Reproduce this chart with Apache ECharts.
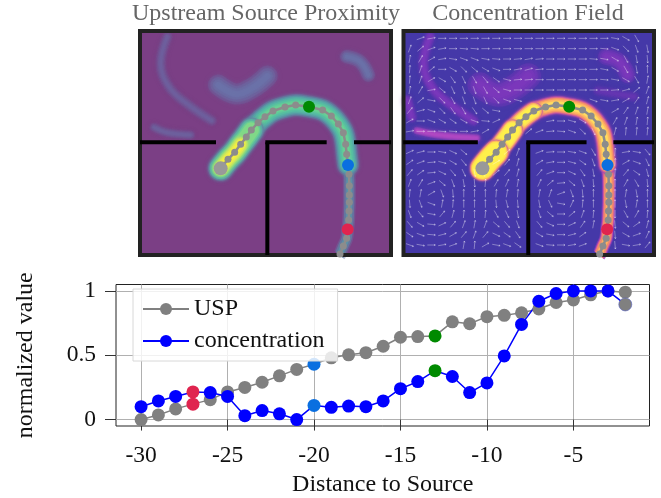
<!DOCTYPE html>
<html><head><meta charset="utf-8">
<style>html,body{margin:0;padding:0;background:#fff}#c{width:661px;height:498px}</style>
<script src="https://cdn.jsdelivr.net/npm/echarts@6/dist/echarts.min.js"></script>
</head><body><div id="c"></div>
<script>
const distance=[-30,-29,-28,-27,-26,-25,-24,-23,-22,-21,-20,-19,-18,-17,-16,-15,-14,-13,-12,-11,-10,-9,-8,-7,-6,-5,-4,-3,-2];
const usp=[0,.036,.083,.12,.155,.215,.25,.29,.34,.39,.43,.48,.503,.52,.57,.64,.645,.65,.76,.745,.80,.81,.83,.86,.91,.93,.97,1,.99];
const concentration=[.10,.145,.18,.215,.21,.18,.03,.07,.045,0,.11,.095,.105,.10,.145,.24,.295,.38,.335,.21,.285,.495,.74,.92,.98,1,1,1,.895];
const xTicks=[-30,-25,-20,-15,-10,-5];
const yTicks=[0,.5,1];
// trajectory in the top maps, one point per distance step
const pathX=[630,640,650,653,656,657,658,658,658,657,654,650,647,640,625,604,578,537,497,465,429,405,384,364,349,332,314,294,272];
const pathY=[762,738,715,688,660,633,607,585,557,523,495,463,433,398,372,348,330,320,315,321,333,350,368,390,411,433,457,478,505];
const tail=[[628,765]];
const wallH1=[[30,427],[258,427]], wallH2=[[406,427],[590,427]], wallV=[[412,427],[412,765]];
const patchA=[[265,255],[320,282],[370,262],[412,228]];
const patchB=[[650,170],[690,185],[715,225]];
const patchC=[[112,110],[92,190],[118,262],[172,312],[245,362]];
const patchD=[[72,382],[112,398],[182,405]];
const patchE=[[72,392],[140,405],[255,414]];
const patchF=[[42,300],[56,352]];
const patchG=[[625,272],[735,290]];
// flow field direction in degrees, one row per 31 units down, one column per 33 across
const fieldAngles=[
[null,20,10,0,0,0,0,0,0,0,0,0,0,0,0,0,0,0,0,-10,-30,-60,null],
[70,40,20,10,0,-5,-5,0,0,0,0,0,0,0,0,0,0,0,-5,-20,-45,-70,-80],
[80,60,30,10,-10,-20,-20,-10,-5,0,5,10,5,0,0,0,0,-5,-10,-30,-60,-80,-85],
[85,70,40,0,-30,-45,-40,-30,-20,0,10,15,5,0,0,0,0,0,-10,-30,-60,-80,90],
[85,70,30,-30,-55,-65,-60,-50,-35,-15,5,5,0,0,0,0,0,0,-5,-10,-30,-60,80],
[80,60,10,-40,-65,-70,-70,-60,-40,-15,0,0,0,0,0,0,0,0,0,5,15,40,70],
[70,40,-10,-45,-60,-70,-70,-65,-45,-20,-15,null,null,null,null,null,null,-20,-10,10,30,55,75],
[50,15,-20,-45,-55,-60,-55,-40,-10,null,null,null,null,null,null,null,null,null,null,30,55,70,80],
[30,0,-20,-30,-35,-30,-20,-5,25,null,null,null,null,10,0,-15,-30,null,null,60,70,80,85],
[10,0,0,-5,-5,0,10,30,null,null,null,40,20,5,-5,-20,-45,-65,null,75,85,85,85],
[null,null,null,null,null,null,null,null,null,null,null,null,null,null,null,null,null,null,null,null,null,null,null],
[25,15,0,-10,-25,-40,null,null,null,40,70,null,20,5,0,-10,-20,-60,null,85,10,-10,-50],
[35,20,5,-15,-30,-50,null,null,30,50,75,null,30,10,0,-15,-35,-70,null,85,30,-20,-65],
[50,35,5,-25,-50,-65,-80,80,40,50,75,null,50,20,0,-25,-55,-80,null,85,50,-35,-75],
[70,60,20,-40,-70,-80,-85,85,60,65,80,null,65,40,5,-40,-70,-85,null,90,60,-60,-85],
[85,80,30,-70,-85,90,90,90,85,80,85,null,80,70,20,-70,-85,90,null,90,80,-80,90],
[-85,-70,-20,80,85,90,90,90,-85,-75,-85,null,-80,-65,-10,65,85,90,null,90,-80,80,90],
[-70,-50,-10,50,75,85,90,85,-60,-65,-80,null,-70,-40,0,40,70,85,null,-90,-60,60,85],
[-50,-30,-5,25,50,70,80,70,-40,-50,-70,null,-50,-25,0,25,55,80,null,-85,-40,35,75],
[-35,-20,-5,15,30,50,70,50,-25,-35,-55,null,-30,-10,0,15,35,null,null,-85,-30,20,65],
[-20,-10,0,10,20,80,85,30,-10,-20,-35,null,-20,-5,0,10,20,null,null,-85,-10,10,50]
];
const path=pathX.map((x,i)=>[x,pathY[i]]);
const seg=(a,b)=>path.slice(distance.indexOf(a),distance.indexOf(b)+1);
const mark={'-27':'#e0244f','-20':'#0a6fe0','-13':'#008a00'};
const GRAY='#808080',BLUE='#0000ff',serif='"Liberation Serif","Times New Roman",serif';

function band(g,data,color,width,blur,op,cap){return {type:'line',xAxisIndex:g,yAxisIndex:g,data,smooth:.4,symbol:'none',silent:true,z:2,
  lineStyle:{color,width,cap:cap||'round',join:'round',opacity:op==null?1:op,shadowBlur:blur,shadowColor:color}};}
function glow(g,data,layers){return layers.map(l=>band(g,data,l[0],l[1],l[3]==null?3:l[3],l[2],l[4]));}
function soft(g,data,color,w,op){return glow(g,data,[[color,w*1.5,op*.3,5],[color,w*1.15,op*.35,4],[color,w*.8,op*.45,4],[color,w*.45,op*.55,3]]);}
function traj(g){return {type:'line',xAxisIndex:g,yAxisIndex:g,z:5,silent:true,symbol:'circle',symbolSize:7,
  lineStyle:{color:'#8c8c8c',width:2.5},itemStyle:{color:'#8c8c8c'},
  data:path.map((p,i)=>{const k=distance[i];
    if(mark[k])return{value:p,symbol:'circle',symbolSize:12,itemStyle:{color:mark[k]}};
    if(k===-2)return{value:p,symbolSize:14,itemStyle:{color:'#999'}};
    return p;})};}
function walls(g,xmin,xmax){
  const frame=[[xmin,93],[xmax,93],[xmax,765],[xmin,765],[xmin,93]];
  return [frame,wallH1,wallH2,[[672,427],[xmax,427]],wallV].map((d,i)=>({type:'line',xAxisIndex:g,yAxisIndex:g,data:d,symbol:'none',silent:true,z:4,
    lineStyle:{color:i?'#000':'#222',width:4,join:'miter',cap:i?'butt':'square'}}));}
function arrows(g){const d=[];fieldAngles.forEach((r,j)=>r.forEach((a,i)=>{if(a!==null)d.push([50+33*i,115+31*j,a]);}));
  return {type:'custom',xAxisIndex:g,yAxisIndex:g,z:3,silent:true,data:d,clip:true,renderItem(p,api){
    const c=api.coord([api.value(0),api.value(1)]),t=api.value(2)*Math.PI/180,L=4,
      dx=Math.cos(t)*L,dy=-Math.sin(t)*L,hx=c[0]+dx,hy=c[1]+dy,
      ax=Math.cos(t+2.6)*1.6,ay=-Math.sin(t+2.6)*1.6,bx=Math.cos(t-2.6)*1.6,by=-Math.sin(t-2.6)*1.6;
    const st={stroke:'rgba(255,255,255,.36)',lineWidth:1,fill:null};
    return {type:'group',children:[
      {type:'line',shape:{x1:c[0]-dx,y1:c[1]-dy,x2:hx,y2:hy},style:st},
      {type:'polyline',shape:{points:[[hx+ax,hy+ay],[hx,hy],[hx+bx,hy+by]]},style:st}]};
  }};}
const lMap=[
 ...soft(0,patchA,'#6a74aa',14,.8),...soft(0,patchB,'#6a74aa',9,.8),...soft(0,patchC,'#6d6aa5',7,.45),...soft(0,patchD,'#6d6aa5',6,.5),
 ...glow(0,tail.concat(seg(-30,-20)),[['#6a6ea0',13,.45,0,'butt'],['#5f85a5',10,.7,0,'butt'],['#5a98a8',6,.8,0,'butt']]),
 ...glow(0,seg(-20,-2),[['#6a6ea0',22,.45,4],['#5f85a5',19,.8,4],['#58a0a8',16,1,4],['#55b8a5',13,1,4],['#5cc89c',9,1,4],['#6ad094',6,1,3]]),
 ...glow(0,seg(-7,-2),[['#6a6ea0',25,.6,4],['#58a0a8',22,1,4],['#5cc89c',18,1,4],['#80d888',15,1,4]]),
 ...glow(0,seg(-5,-2),[['#a8e070',14,1,4],['#d8e858',11,1,4],['#f4f040',8,1,4]]),
 ...walls(0,30,783),traj(0)];
const rMap=[
 ...soft(1,patchA,'#7d38bc',17,.9),...soft(1,patchB,'#7d38bc',11,.9),...soft(1,patchC,'#7d38bc',7,.8),...soft(1,patchE,'#b448c4',5,.95),
 ...soft(1,patchF,'#7d38bc',7,.8),...soft(1,patchG,'#6a38b4',7,.6),
 arrows(1),
 ...glow(1,tail.concat(seg(-30,-20)),[['#8a3cb8',14,.7,0,'butt'],['#c850a8',12,1,0,'butt'],['#f08870',10,1,0,'butt'],['#ffb060',6,1,0,'butt']]),
 ...glow(1,seg(-20,-2),[['#8a3cb8',18,.7,4],['#c850a8',16,1],['#f08870',14,1],['#ffb060',11,1],['#ffdc60',7,1]]),
 ...glow(1,seg(-10,-2),[['#c850a8',18,1],['#f8a068',16,1],['#ffd860',13,1],['#fff04a',10,1]]),
 ...glow(1,seg(-7,-2),[['#c850a8',21,1],['#f8a068',19,1],['#ffd860',17,1],['#fff04a',14,1]]),
 ...glow(1,seg(-4,-2),[['#c850a8',25,1],['#f8a068',23,1],['#ffe050',21,1],['#fff04a',18,1]]),
 ...walls(1,31,796),traj(1)];
function curve(name,vals,color){return {name,type:'line',xAxisIndex:2,yAxisIndex:2,z:3,symbol:'circle',symbolSize:13,
  lineStyle:{color,width:1.5},itemStyle:{color},
  data:vals.map((v,i)=>{const k=distance[i];const pt=[k,v];
    if(mark[k])return{value:pt,itemStyle:{color:mark[k]}};
    if(name==='concentration'&&k===-2)return{value:pt,itemStyle:{color:GRAY,borderColor:'#5560c0',borderWidth:.6}};
    return pt;})};}
const panelAxis=(i,min,max,inv)=>({gridIndex:i,type:'value',show:false,min,max,inverse:!!inv,splitLine:{show:false}});
const chart=echarts.init(document.getElementById('c'),null,{renderer:'canvas'});
const FS=24;
chart.setOption({
 animation:false,backgroundColor:'#fff',
 title:[
  {text:'Upstream Source Proximity',left:266,top:2,textAlign:'center',textStyle:{fontFamily:serif,fontWeight:'normal',fontSize:FS,color:'#666'},padding:0},
  {text:'Concentration Field',left:528,top:2,textAlign:'center',textStyle:{fontFamily:serif,fontWeight:'normal',fontSize:FS,color:'#666'},padding:0}],
 grid:[
  {left:140,top:31,width:251,height:224,show:true,backgroundColor:'#7b3f85',borderWidth:0,outerBoundsMode:'none'},
  {left:403.5,top:31,width:250.5,height:224,show:true,backgroundColor:'#4538a8',borderWidth:0,outerBoundsMode:'none'},
  {left:116,top:284.5,width:533.5,height:141.5,show:true,borderColor:'#222',borderWidth:1,outerBoundsMode:'none'}],
 xAxis:[panelAxis(0,30,783),panelAxis(1,31,796),
  {gridIndex:2,type:'value',min:-31.45,max:-.6,name:'Distance to Source',nameLocation:'middle',nameGap:47,
   nameTextStyle:{fontFamily:serif,fontSize:FS,color:'#111'},
   axisLine:{show:false},axisTick:{show:true,length:11,customValues:xTicks,lineStyle:{color:'#333',width:1}},
   axisLabel:{customValues:xTicks,margin:18,fontFamily:serif,fontSize:23.5,color:'#111',formatter:v=>String(v)},
   splitLine:{show:true,lineStyle:{color:'#b0b0b0',width:1}}}],
 yAxis:[panelAxis(0,93,765,true),panelAxis(1,93,765,true),
  {gridIndex:2,type:'value',min:-.05,max:1.05,name:'normalized value',nameLocation:'middle',nameGap:78,
   nameTextStyle:{fontFamily:serif,fontSize:FS,color:'#111'},
   axisLine:{show:false},axisTick:{show:true,length:11,customValues:yTicks,lineStyle:{color:'#333',width:1}},
   axisLabel:{customValues:yTicks,margin:20,fontFamily:serif,fontSize:23.5,color:'#111',formatter:v=>String(v)},
   splitLine:{show:true,lineStyle:{color:'#b0b0b0',width:1}}}],
 legend:{data:['USP','concentration'],left:133,top:289,orient:'vertical',itemWidth:46,itemHeight:15,itemGap:8,
  padding:[8,13,8,9],backgroundColor:'rgba(255,255,255,.82)',borderColor:'#d8d8d8',borderWidth:1,
  textStyle:{fontFamily:serif,fontSize:FS,color:'#111'}},
 series:[...lMap,...rMap,curve('USP',usp,GRAY),curve('concentration',concentration,BLUE)]
});
</script></body></html>
